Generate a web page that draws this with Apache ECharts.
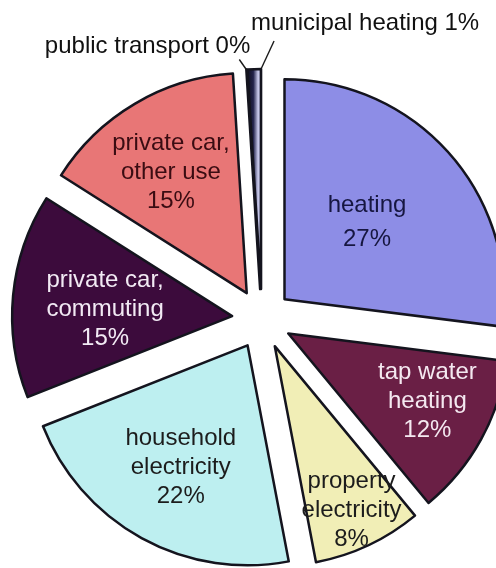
<!DOCTYPE html>
<html>
<head>
<meta charset="utf-8">
<script src="https://cdn.jsdelivr.net/npm/echarts@6/dist/echarts.min.js"></script>
<style>
  html, body { margin: 0; padding: 0; background: #ffffff; }
  #chart { width: 496px; height: 568px; }
</style>
</head>
<body>
<div id="chart"></div>
<script>
// Household energy use shares, clockwise from 12 o'clock
const categories = [
  'heating', 'tap water heating', 'property electricity', 'household electricity',
  'private car, commuting', 'private car, other use', 'public transport', 'municipal heating'
];
const labelNames = [
  'heating', 'tap water\nheating', 'property\nelectricity', 'household\nelectricity',
  'private car,\ncommuting', 'private car,\nother use', 'public transport', 'municipal heating'
];
const shares = [27, 12, 8, 22, 15, 15, 0, 1];

const sliceColors = [
  '#8d8de6', '#6a1f45', '#f1eeb6', '#bdeff0', '#3c0b3c', '#e87676', '#1c1c2c',
  new echarts.graphic.LinearGradient(0, 0, 1, 0, [
    { offset: 0, color: '#0c0c14' },
    { offset: 0.45, color: '#22224a' },
    { offset: 0.75, color: '#cfd0f2' },
    { offset: 1, color: '#3a3a60' }
  ])
];
const textColors = ['#161640', '#f4e8f0', '#1c1c1c', '#1c1c1c', '#f2eaf4', '#3a0c12', '#111111', '#111111'];

// geometry of the exploded pie
const CX = 262, CY = 319, R = 220, OFFSET = 30;
// how far out (fraction of radius) each inside label sits along its slice's bisector,
// plus a small pixel nudge for the text block
const labelDepth = [0.5, 0.68, 0.82, 0.63, 0.58, 0.65, 0, 0];
const labelNudge = [[0, -4], [8, -4], [0, 1], [0, 1], [0, 5], [-3, 2], [0, 0], [0, 0]];
const OUTSIDE = [6, 7];

const total = shares.reduce((a, b) => a + b, 0);
const startAng = [], endAng = [];
let acc = 0;
shares.forEach(v => {
  startAng.push(acc / total * 2 * Math.PI);
  acc += v;
  endAng.push(acc / total * 2 * Math.PI);
});
const midAng = startAng.map((s, i) => (s + endAng[i]) / 2);

// point at angle/radius measured from the exploded apex of slice i
function polar(i, ang, r) {
  const ax = CX + OFFSET * Math.sin(midAng[i]);
  const ay = CY - OFFSET * Math.cos(midAng[i]);
  return [ax + r * Math.sin(ang), ay - r * Math.cos(ang)];
}

// the exploded wedges
const wedgeData = categories.map((name, i) => ({
  name: name,
  value: shares[i],
  selected: true,
  itemStyle: { color: sliceColors[i] }
}));

// transparent twin that carries the labels and leader lines
const labelData = categories.map((name, i) => {
  const outside = OUTSIDE.indexOf(i) >= 0;
  return {
    name: name,
    value: shares[i],
    label: {
      position: outside ? 'outside' : 'inside',
      color: textColors[i],
      lineHeight: i === 0 ? 34 : 29,
      formatter: outside ? (labelNames[i] + ' ' + shares[i] + '%') : (labelNames[i] + '\n' + shares[i] + '%')
    },
    labelLine: { show: outside }
  };
});

function placeLabel(params) {
  const i = params.dataIndex;
  if (i === 6) {
    const s = polar(i, startAng[i], R);
    const e = [s[0] - 7, s[1] - 10];
    return { x: e[0] + 11, y: e[1] - 13, align: 'right', verticalAlign: 'middle', labelLinePoints: [s, e] };
  }
  if (i === 7) {
    const s = polar(i, endAng[i], R);
    const e = [s[0] + 13, s[1] - 28];
    return { x: e[0] - 23, y: e[1] - 18, align: 'left', verticalAlign: 'middle', labelLinePoints: [s, e] };
  }
  const p = polar(i, midAng[i], R * labelDepth[i]);
  return {
    x: p[0] + labelNudge[i][0],
    y: p[1] + labelNudge[i][1],
    align: 'center',
    verticalAlign: 'middle'
  };
}

const chart = echarts.init(document.getElementById('chart'), null, { renderer: 'canvas' });
chart.setOption({
  backgroundColor: '#ffffff',
  animation: false,
  series: [
    {
      type: 'pie',
      center: [CX, CY],
      radius: [0, R],
      startAngle: 90,
      clockwise: true,
      minAngle: 0,
      selectedMode: 'multiple',
      selectedOffset: OFFSET,
      itemStyle: { borderColor: '#14141e', borderWidth: 2.5 },
      select: { itemStyle: { borderColor: '#14141e', borderWidth: 2.5 } },
      emphasis: { disabled: true },
      label: { show: false },
      labelLine: { show: false },
      data: wedgeData
    },
    {
      type: 'pie',
      silent: true,
      z: 3,
      center: [CX, CY],
      radius: [0, R],
      startAngle: 90,
      clockwise: true,
      minAngle: 0,
      avoidLabelOverlap: false,
      selectedMode: false,
      itemStyle: { color: 'rgba(0,0,0,0)', borderWidth: 0 },
      emphasis: { disabled: true },
      label: {
        show: true,
        fontFamily: 'Liberation Sans, Arial, sans-serif',
        fontSize: 24,
        align: 'center'
      },
      labelLine: { lineStyle: { color: '#1a1a1a', width: 1.4 }, length: 10, length2: 0 },
      labelLayout: placeLabel,
      data: labelData
    }
  ]
});
</script>
</body>
</html>
